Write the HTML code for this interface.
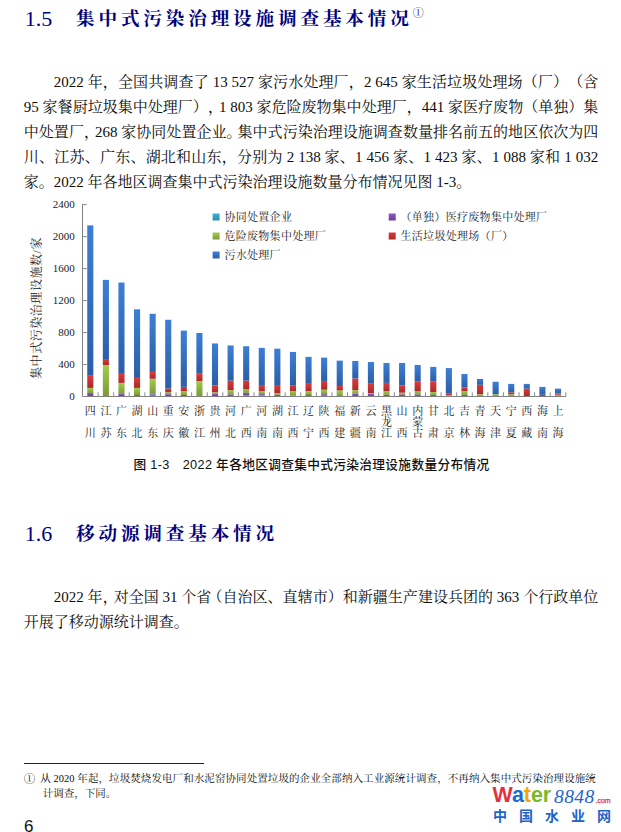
<!DOCTYPE html>
<html lang="zh-CN">
<head>
<meta charset="utf-8">
<title>1.5 集中式污染治理设施调查基本情况</title>
<style>
html,body{margin:0;padding:0;background:#fff;}
body{width:621px;height:832px;position:relative;overflow:hidden;
  font-family:"Liberation Serif","Noto Serif CJK SC",serif;color:#0d0d0d;text-spacing-trim:space-all;}
.h{position:absolute;left:26px;color:#000080;white-space:nowrap;}
.h .n{position:absolute;left:-1.2px;top:2.4px;font-family:"Liberation Serif",serif;font-size:22px;}
.h .t{position:absolute;left:50px;top:0px;font-family:"Liberation Serif","Noto Serif CJK SC",serif;font-weight:700;font-size:18.6px;letter-spacing:3.85px;}
.h sup{font-size:11px;font-weight:400;position:absolute;top:-0.5px;right:-11px;letter-spacing:0;}
.p{position:absolute;left:23.8px;width:574.5px;font-size:15px;line-height:25px;}
.p div{height:25px;white-space:nowrap;text-align:justify;text-align-last:justify;}
.p div.l{text-align-last:left;}
.p .ind{padding-left:30px;}
.hw{letter-spacing:-4px;}
.hl{margin-left:-4px;}
.chart{position:absolute;left:0;top:0;}
.chart text{font-family:"Liberation Serif","Noto Serif CJK SC",serif;fill:#1a1a1a;}
.chart .yl{font-size:11px;}
.chart .xl{font-size:11px;}
.chart .yt{font-size:12px;letter-spacing:0.55px;}
.chart .lg{font-size:11px;letter-spacing:0.3px;}
.cap{position:absolute;left:133.5px;top:453.8px;font-family:"Liberation Sans","Noto Sans CJK SC",sans-serif;font-weight:500;font-size:12.7px;letter-spacing:0.33px;white-space:nowrap;color:#111;}
.cap b{font-weight:700;}
.fnrule{position:absolute;left:24px;top:763px;width:180px;height:1px;background:#222;}
.fn{position:absolute;left:40.3px;top:772.3px;font-size:10.5px;line-height:14.5px;width:555.5px;}
.fn div{white-space:nowrap;text-align:justify;text-align-last:justify;}
.fn div.l{text-align-last:left;}
.fn .c1{position:absolute;left:-16.5px;top:0;font-size:11.5px;}
.pg{position:absolute;left:24px;top:816.5px;font-family:"Liberation Sans",sans-serif;font-size:17px;color:#111;}
.wm{position:absolute;white-space:nowrap;line-height:1;}
.wm1{left:492.5px;top:785.2px;font-family:"Liberation Sans",sans-serif;font-weight:700;font-size:21.4px;letter-spacing:0px;}
.wm8{left:554px;top:786.6px;font-family:"Liberation Serif",serif;font-style:italic;font-size:19.5px;letter-spacing:0.4px;color:#1f66d0;}
.wmc{left:595.5px;top:796.6px;font-family:"Liberation Sans",sans-serif;font-size:7px;color:#e2343e;-webkit-text-stroke:0.25px #e2343e;}
.wm2{left:493px;top:809.2px;font-family:"Liberation Sans","Noto Sans CJK SC",sans-serif;font-weight:700;font-size:14px;letter-spacing:12px;color:#1c64c8;}
</style>
</head>
<body>
<div class="h" style="top:4px;"><span class="n">1.5</span><span class="t">集中式污染治理设施调查基本情况<sup>①</sup></span></div>

<div class="p" style="top:70.2px;">
<div class="ind">2022 年，全国共调查了 13 527 家污水处理厂，2 645 家生活垃圾处理场（厂）（含</div>
<div>95 家餐厨垃圾集中处理厂）<span class="hw">，</span>1 803 家危险废物集中处理厂，441 家医疗废物（单独）集</div>
<div>中处置厂<span class="hw">，</span>268 家协同处置企业<span class="hw">。</span>集中式污染治理设施调查数量排名前五的地区依次为四</div>
<div>川、江苏、广东、湖北和山东，分别为 2 138 家、1 456 家、1 423 家、1 088 家和 1 032</div>
<div class="l">家。2022 年各地区调查集中式污染治理设施数量分布情况见图 1-3。</div>
</div>

<svg class="chart" width="621" height="480" viewBox="0 0 621 480">
<defs>
<linearGradient id="gc" x1="0" y1="0" x2="0" y2="1"><stop offset="0" stop-color="#3fb0d6"/><stop offset="1" stop-color="#2a8fb0"/></linearGradient>
<linearGradient id="gp" x1="0" y1="0" x2="0" y2="1"><stop offset="0" stop-color="#8a5cc0"/><stop offset="1" stop-color="#6a3f9a"/></linearGradient>
<linearGradient id="gg" x1="0" y1="0" x2="0" y2="1"><stop offset="0" stop-color="#a2cc48"/><stop offset="1" stop-color="#7d9a3c"/></linearGradient>
<linearGradient id="gr" x1="0" y1="0" x2="0" y2="1"><stop offset="0" stop-color="#dc3b3b"/><stop offset="1" stop-color="#a92a2a"/></linearGradient>
<linearGradient id="gb" x1="0" y1="0" x2="0" y2="1"><stop offset="0" stop-color="#3d7fd4"/><stop offset="1" stop-color="#2b5ea8"/></linearGradient>
</defs>
<rect x="87.25" y="392.94" width="6.1" height="3.36" fill="url(#gp)"/>
<rect x="87.25" y="387.91" width="6.1" height="5.04" fill="url(#gg)"/>
<rect x="87.25" y="375.75" width="6.1" height="12.15" fill="url(#gr)"/>
<rect x="87.25" y="225.37" width="6.1" height="150.39" fill="url(#gb)"/>
<rect x="102.83" y="395.02" width="6.1" height="1.28" fill="url(#gc)"/>
<rect x="102.83" y="365.04" width="6.1" height="29.98" fill="url(#gg)"/>
<rect x="102.83" y="359.04" width="6.1" height="6.00" fill="url(#gr)"/>
<rect x="102.83" y="279.89" width="6.1" height="79.15" fill="url(#gb)"/>
<rect x="118.42" y="393.90" width="6.1" height="2.40" fill="url(#gp)"/>
<rect x="118.42" y="382.87" width="6.1" height="11.03" fill="url(#gg)"/>
<rect x="118.42" y="373.91" width="6.1" height="8.95" fill="url(#gr)"/>
<rect x="118.42" y="282.53" width="6.1" height="91.38" fill="url(#gb)"/>
<rect x="134.01" y="395.02" width="6.1" height="1.28" fill="url(#gp)"/>
<rect x="134.01" y="387.91" width="6.1" height="7.12" fill="url(#gg)"/>
<rect x="134.01" y="377.91" width="6.1" height="9.99" fill="url(#gr)"/>
<rect x="134.01" y="309.31" width="6.1" height="68.60" fill="url(#gb)"/>
<rect x="149.60" y="394.54" width="6.1" height="1.76" fill="url(#gc)"/>
<rect x="149.60" y="393.90" width="6.1" height="0.64" fill="url(#gp)"/>
<rect x="149.60" y="378.71" width="6.1" height="15.19" fill="url(#gg)"/>
<rect x="149.60" y="371.92" width="6.1" height="6.80" fill="url(#gr)"/>
<rect x="149.60" y="313.79" width="6.1" height="58.12" fill="url(#gb)"/>
<rect x="165.19" y="394.14" width="6.1" height="2.16" fill="url(#gp)"/>
<rect x="165.19" y="392.22" width="6.1" height="1.92" fill="url(#gg)"/>
<rect x="165.19" y="388.46" width="6.1" height="3.76" fill="url(#gr)"/>
<rect x="165.19" y="319.79" width="6.1" height="68.68" fill="url(#gb)"/>
<rect x="180.78" y="395.02" width="6.1" height="1.28" fill="url(#gp)"/>
<rect x="180.78" y="391.02" width="6.1" height="4.00" fill="url(#gg)"/>
<rect x="180.78" y="386.87" width="6.1" height="4.16" fill="url(#gr)"/>
<rect x="180.78" y="330.58" width="6.1" height="56.28" fill="url(#gb)"/>
<rect x="196.38" y="395.02" width="6.1" height="1.28" fill="url(#gc)"/>
<rect x="196.38" y="381.03" width="6.1" height="13.99" fill="url(#gg)"/>
<rect x="196.38" y="373.75" width="6.1" height="7.28" fill="url(#gr)"/>
<rect x="196.38" y="332.98" width="6.1" height="40.77" fill="url(#gb)"/>
<rect x="211.96" y="393.82" width="6.1" height="2.48" fill="url(#gp)"/>
<rect x="211.96" y="392.30" width="6.1" height="1.52" fill="url(#gg)"/>
<rect x="211.96" y="385.43" width="6.1" height="6.88" fill="url(#gr)"/>
<rect x="211.96" y="343.45" width="6.1" height="41.97" fill="url(#gb)"/>
<rect x="227.55" y="394.38" width="6.1" height="1.92" fill="url(#gp)"/>
<rect x="227.55" y="390.14" width="6.1" height="4.24" fill="url(#gg)"/>
<rect x="227.55" y="380.63" width="6.1" height="9.51" fill="url(#gr)"/>
<rect x="227.55" y="345.45" width="6.1" height="35.18" fill="url(#gb)"/>
<rect x="243.14" y="395.02" width="6.1" height="1.28" fill="url(#gc)"/>
<rect x="243.14" y="392.86" width="6.1" height="2.16" fill="url(#gp)"/>
<rect x="243.14" y="389.34" width="6.1" height="3.52" fill="url(#gg)"/>
<rect x="243.14" y="380.55" width="6.1" height="8.79" fill="url(#gr)"/>
<rect x="243.14" y="346.25" width="6.1" height="34.30" fill="url(#gb)"/>
<rect x="258.73" y="395.18" width="6.1" height="1.12" fill="url(#gc)"/>
<rect x="258.73" y="394.14" width="6.1" height="1.04" fill="url(#gp)"/>
<rect x="258.73" y="391.02" width="6.1" height="3.12" fill="url(#gg)"/>
<rect x="258.73" y="385.03" width="6.1" height="6.00" fill="url(#gr)"/>
<rect x="258.73" y="347.85" width="6.1" height="37.18" fill="url(#gb)"/>
<rect x="274.32" y="394.78" width="6.1" height="1.52" fill="url(#gp)"/>
<rect x="274.32" y="393.18" width="6.1" height="1.60" fill="url(#gg)"/>
<rect x="274.32" y="385.03" width="6.1" height="8.15" fill="url(#gr)"/>
<rect x="274.32" y="348.65" width="6.1" height="36.38" fill="url(#gb)"/>
<rect x="289.92" y="395.42" width="6.1" height="0.88" fill="url(#gp)"/>
<rect x="289.92" y="391.02" width="6.1" height="4.40" fill="url(#gg)"/>
<rect x="289.92" y="385.11" width="6.1" height="5.92" fill="url(#gr)"/>
<rect x="289.92" y="351.93" width="6.1" height="33.18" fill="url(#gb)"/>
<rect x="305.50" y="395.02" width="6.1" height="1.28" fill="url(#gp)"/>
<rect x="305.50" y="391.02" width="6.1" height="4.00" fill="url(#gg)"/>
<rect x="305.50" y="383.83" width="6.1" height="7.20" fill="url(#gr)"/>
<rect x="305.50" y="356.88" width="6.1" height="26.94" fill="url(#gb)"/>
<rect x="321.09" y="395.02" width="6.1" height="1.28" fill="url(#gc)"/>
<rect x="321.09" y="394.14" width="6.1" height="0.88" fill="url(#gp)"/>
<rect x="321.09" y="389.74" width="6.1" height="4.40" fill="url(#gg)"/>
<rect x="321.09" y="380.95" width="6.1" height="8.79" fill="url(#gr)"/>
<rect x="321.09" y="357.60" width="6.1" height="23.35" fill="url(#gb)"/>
<rect x="336.69" y="390.38" width="6.1" height="5.92" fill="url(#gg)"/>
<rect x="336.69" y="385.99" width="6.1" height="4.40" fill="url(#gr)"/>
<rect x="336.69" y="360.64" width="6.1" height="25.34" fill="url(#gb)"/>
<rect x="352.27" y="393.82" width="6.1" height="2.48" fill="url(#gp)"/>
<rect x="352.27" y="390.14" width="6.1" height="3.68" fill="url(#gg)"/>
<rect x="352.27" y="378.47" width="6.1" height="11.67" fill="url(#gr)"/>
<rect x="352.27" y="360.96" width="6.1" height="17.51" fill="url(#gb)"/>
<rect x="367.87" y="393.90" width="6.1" height="2.40" fill="url(#gp)"/>
<rect x="367.87" y="393.18" width="6.1" height="0.72" fill="url(#gg)"/>
<rect x="367.87" y="383.11" width="6.1" height="10.07" fill="url(#gr)"/>
<rect x="367.87" y="362.00" width="6.1" height="21.11" fill="url(#gb)"/>
<rect x="383.45" y="394.78" width="6.1" height="1.52" fill="url(#gp)"/>
<rect x="383.45" y="391.26" width="6.1" height="3.52" fill="url(#gg)"/>
<rect x="383.45" y="382.87" width="6.1" height="8.39" fill="url(#gr)"/>
<rect x="383.45" y="362.96" width="6.1" height="19.91" fill="url(#gb)"/>
<rect x="399.04" y="394.38" width="6.1" height="1.92" fill="url(#gp)"/>
<rect x="399.04" y="392.62" width="6.1" height="1.76" fill="url(#gg)"/>
<rect x="399.04" y="385.35" width="6.1" height="7.28" fill="url(#gr)"/>
<rect x="399.04" y="362.96" width="6.1" height="22.39" fill="url(#gb)"/>
<rect x="414.63" y="394.38" width="6.1" height="1.92" fill="url(#gp)"/>
<rect x="414.63" y="391.34" width="6.1" height="3.04" fill="url(#gg)"/>
<rect x="414.63" y="381.27" width="6.1" height="10.07" fill="url(#gr)"/>
<rect x="414.63" y="364.96" width="6.1" height="16.31" fill="url(#gb)"/>
<rect x="430.22" y="394.78" width="6.1" height="1.52" fill="url(#gp)"/>
<rect x="430.22" y="391.98" width="6.1" height="2.80" fill="url(#gg)"/>
<rect x="430.22" y="381.59" width="6.1" height="10.39" fill="url(#gr)"/>
<rect x="430.22" y="366.88" width="6.1" height="14.71" fill="url(#gb)"/>
<rect x="445.81" y="395.90" width="6.1" height="0.40" fill="url(#gp)"/>
<rect x="445.81" y="395.18" width="6.1" height="0.72" fill="url(#gg)"/>
<rect x="445.81" y="393.26" width="6.1" height="1.92" fill="url(#gr)"/>
<rect x="445.81" y="368.08" width="6.1" height="25.18" fill="url(#gb)"/>
<rect x="461.40" y="394.78" width="6.1" height="1.52" fill="url(#gp)"/>
<rect x="461.40" y="391.02" width="6.1" height="3.76" fill="url(#gg)"/>
<rect x="461.40" y="387.51" width="6.1" height="3.52" fill="url(#gr)"/>
<rect x="461.40" y="373.99" width="6.1" height="13.51" fill="url(#gb)"/>
<rect x="477.00" y="394.22" width="6.1" height="2.08" fill="url(#gg)"/>
<rect x="477.00" y="384.79" width="6.1" height="9.43" fill="url(#gr)"/>
<rect x="477.00" y="378.95" width="6.1" height="5.84" fill="url(#gb)"/>
<rect x="492.58" y="394.22" width="6.1" height="2.08" fill="url(#gg)"/>
<rect x="492.58" y="381.75" width="6.1" height="12.47" fill="url(#gb)"/>
<rect x="508.18" y="394.22" width="6.1" height="2.08" fill="url(#gg)"/>
<rect x="508.18" y="392.30" width="6.1" height="1.92" fill="url(#gr)"/>
<rect x="508.18" y="383.91" width="6.1" height="8.39" fill="url(#gb)"/>
<rect x="523.77" y="388.62" width="6.1" height="7.68" fill="url(#gr)"/>
<rect x="523.77" y="383.91" width="6.1" height="4.72" fill="url(#gb)"/>
<rect x="539.36" y="394.70" width="6.1" height="1.60" fill="url(#gr)"/>
<rect x="539.36" y="386.87" width="6.1" height="7.84" fill="url(#gb)"/>
<rect x="554.95" y="394.70" width="6.1" height="1.60" fill="url(#gg)"/>
<rect x="554.95" y="393.42" width="6.1" height="1.28" fill="url(#gr)"/>
<rect x="554.95" y="388.62" width="6.1" height="4.80" fill="url(#gb)"/>
<path d="M82.5 204.12 V396.5 H565.8" fill="none" stroke="#808080" stroke-width="1"/>
<path d="M82.5 396.50h4.3 M82.5 364.52h4.3 M82.5 332.54h4.3 M82.5 300.56h4.3 M82.5 268.58h4.3 M82.5 236.60h4.3 M82.5 204.62h4.3 M98.09 396.5v-4.2 M113.68 396.5v-4.2 M129.27 396.5v-4.2 M144.86 396.5v-4.2 M160.45 396.5v-4.2 M176.04 396.5v-4.2 M191.63 396.5v-4.2 M207.22 396.5v-4.2 M222.81 396.5v-4.2 M238.40 396.5v-4.2 M253.99 396.5v-4.2 M269.58 396.5v-4.2 M285.17 396.5v-4.2 M300.76 396.5v-4.2 M316.35 396.5v-4.2 M331.94 396.5v-4.2 M347.53 396.5v-4.2 M363.12 396.5v-4.2 M378.71 396.5v-4.2 M394.30 396.5v-4.2 M409.89 396.5v-4.2 M425.48 396.5v-4.2 M441.07 396.5v-4.2 M456.66 396.5v-4.2 M472.25 396.5v-4.2 M487.84 396.5v-4.2 M503.43 396.5v-4.2 M519.02 396.5v-4.2 M534.61 396.5v-4.2 M550.20 396.5v-4.2 M565.79 396.5v-4.2" stroke="#8a8a8a" stroke-width="1"/>
<text class="yl" x="74.7" y="400.3" text-anchor="end">0</text>
<text class="yl" x="74.7" y="368.3" text-anchor="end">400</text>
<text class="yl" x="74.7" y="336.3" text-anchor="end">800</text>
<text class="yl" x="74.7" y="304.4" text-anchor="end">1200</text>
<text class="yl" x="74.7" y="272.4" text-anchor="end">1600</text>
<text class="yl" x="74.7" y="240.4" text-anchor="end">2000</text>
<text class="yl" x="74.7" y="208.4" text-anchor="end">2400</text>
<text class="xl" x="90.3" y="414.5" text-anchor="middle">四</text>
<text class="xl" x="90.3" y="436.5" text-anchor="middle">川</text>
<text class="xl" x="105.9" y="414.5" text-anchor="middle">江</text>
<text class="xl" x="105.9" y="436.5" text-anchor="middle">苏</text>
<text class="xl" x="121.5" y="414.5" text-anchor="middle">广</text>
<text class="xl" x="121.5" y="436.5" text-anchor="middle">东</text>
<text class="xl" x="137.1" y="414.5" text-anchor="middle">湖</text>
<text class="xl" x="137.1" y="436.5" text-anchor="middle">北</text>
<text class="xl" x="152.7" y="414.5" text-anchor="middle">山</text>
<text class="xl" x="152.7" y="436.5" text-anchor="middle">东</text>
<text class="xl" x="168.2" y="414.5" text-anchor="middle">重</text>
<text class="xl" x="168.2" y="436.5" text-anchor="middle">庆</text>
<text class="xl" x="183.8" y="414.5" text-anchor="middle">安</text>
<text class="xl" x="183.8" y="436.5" text-anchor="middle">徽</text>
<text class="xl" x="199.4" y="414.5" text-anchor="middle">浙</text>
<text class="xl" x="199.4" y="436.5" text-anchor="middle">江</text>
<text class="xl" x="215.0" y="414.5" text-anchor="middle">贵</text>
<text class="xl" x="215.0" y="436.5" text-anchor="middle">州</text>
<text class="xl" x="230.6" y="414.5" text-anchor="middle">河</text>
<text class="xl" x="230.6" y="436.5" text-anchor="middle">北</text>
<text class="xl" x="246.2" y="414.5" text-anchor="middle">广</text>
<text class="xl" x="246.2" y="436.5" text-anchor="middle">西</text>
<text class="xl" x="261.8" y="414.5" text-anchor="middle">河</text>
<text class="xl" x="261.8" y="436.5" text-anchor="middle">南</text>
<text class="xl" x="277.4" y="414.5" text-anchor="middle">湖</text>
<text class="xl" x="277.4" y="436.5" text-anchor="middle">南</text>
<text class="xl" x="293.0" y="414.5" text-anchor="middle">江</text>
<text class="xl" x="293.0" y="436.5" text-anchor="middle">西</text>
<text class="xl" x="308.6" y="414.5" text-anchor="middle">辽</text>
<text class="xl" x="308.6" y="436.5" text-anchor="middle">宁</text>
<text class="xl" x="324.1" y="414.5" text-anchor="middle">陕</text>
<text class="xl" x="324.1" y="436.5" text-anchor="middle">西</text>
<text class="xl" x="339.7" y="414.5" text-anchor="middle">福</text>
<text class="xl" x="339.7" y="436.5" text-anchor="middle">建</text>
<text class="xl" x="355.3" y="414.5" text-anchor="middle">新</text>
<text class="xl" x="355.3" y="436.5" text-anchor="middle">疆</text>
<text class="xl" x="370.9" y="414.5" text-anchor="middle">云</text>
<text class="xl" x="370.9" y="436.5" text-anchor="middle">南</text>
<text class="xl" x="386.5" y="414.5" text-anchor="middle">黑</text>
<text class="xl" x="386.5" y="425.5" text-anchor="middle">龙</text>
<text class="xl" x="386.5" y="436.5" text-anchor="middle">江</text>
<text class="xl" x="402.1" y="414.5" text-anchor="middle">山</text>
<text class="xl" x="402.1" y="436.5" text-anchor="middle">西</text>
<text class="xl" x="417.7" y="414.5" text-anchor="middle">内</text>
<text class="xl" x="417.7" y="425.5" text-anchor="middle">蒙</text>
<text class="xl" x="417.7" y="436.5" text-anchor="middle">古</text>
<text class="xl" x="433.3" y="414.5" text-anchor="middle">甘</text>
<text class="xl" x="433.3" y="436.5" text-anchor="middle">肃</text>
<text class="xl" x="448.9" y="414.5" text-anchor="middle">北</text>
<text class="xl" x="448.9" y="436.5" text-anchor="middle">京</text>
<text class="xl" x="464.5" y="414.5" text-anchor="middle">吉</text>
<text class="xl" x="464.5" y="436.5" text-anchor="middle">林</text>
<text class="xl" x="480.0" y="414.5" text-anchor="middle">青</text>
<text class="xl" x="480.0" y="436.5" text-anchor="middle">海</text>
<text class="xl" x="495.6" y="414.5" text-anchor="middle">天</text>
<text class="xl" x="495.6" y="436.5" text-anchor="middle">津</text>
<text class="xl" x="511.2" y="414.5" text-anchor="middle">宁</text>
<text class="xl" x="511.2" y="436.5" text-anchor="middle">夏</text>
<text class="xl" x="526.8" y="414.5" text-anchor="middle">西</text>
<text class="xl" x="526.8" y="436.5" text-anchor="middle">藏</text>
<text class="xl" x="542.4" y="414.5" text-anchor="middle">海</text>
<text class="xl" x="542.4" y="436.5" text-anchor="middle">南</text>
<text class="xl" x="558.0" y="414.5" text-anchor="middle">上</text>
<text class="xl" x="558.0" y="436.5" text-anchor="middle">海</text>
<text class="yt" transform="translate(40.5,308) rotate(-90)" text-anchor="middle">集中式污染治理设施数/家</text>
<rect x="212.6" y="213.5" width="7" height="7" fill="url(#gc)"/>
<text class="lg" x="224.4" y="221.0">协同处置企业</text>
<rect x="388.7" y="213.5" width="7" height="7" fill="url(#gp)"/>
<text class="lg" x="400.5" y="221.0">（单独）医疗废物集中处理厂</text>
<rect x="212.6" y="232.5" width="7" height="7" fill="url(#gg)"/>
<text class="lg" x="224.4" y="240.0">危险废物集中处理厂</text>
<rect x="388.7" y="232.5" width="7" height="7" fill="url(#gr)"/>
<text class="lg" x="400.5" y="240.0">生活垃圾处理场（厂）</text>
<rect x="212.6" y="251.5" width="7" height="7" fill="url(#gb)"/>
<text class="lg" x="224.4" y="259.0">污水处理厂</text>
</svg>

<div class="cap">图 1-3　2022 年各地区调查集中式污染治理设施数量分布情况</div>

<div class="h" style="top:519px;"><span class="n">1.6</span><span class="t">移动源调查基本情况</span></div>

<div class="p" style="top:585.2px;">
<div class="ind">2022 年<span class="hw">，</span>对全国 31 个省<span class="hl">（</span>自治区、直辖市）和新疆生产建设兵团的 363 个行政单位</div>
<div class="l">开展了移动源统计调查。</div>
</div>

<div class="fnrule"></div>
<div class="fn">
<span class="c1">①</span><div>从 2020 年起，垃圾焚烧发电厂和水泥窑协同处置垃圾的企业全部纳入工业源统计调查，不再纳入集中式污染治理设施统</div>
<div class="l" style="padding-left:2.5px;">计调查，下同。</div>
</div>

<div class="pg">6</div>

<div class="wm wm1"><span style="color:#e4323c">W</span><span style="color:#1c6ad6">a</span><span style="color:#f5a500">t</span><span style="color:#79b82b">er</span></div>
<div class="wm wm8">8848</div>
<div class="wm wmc">.com</div>
<div class="wm wm2">中国水业网</div>
</body>
</html>
